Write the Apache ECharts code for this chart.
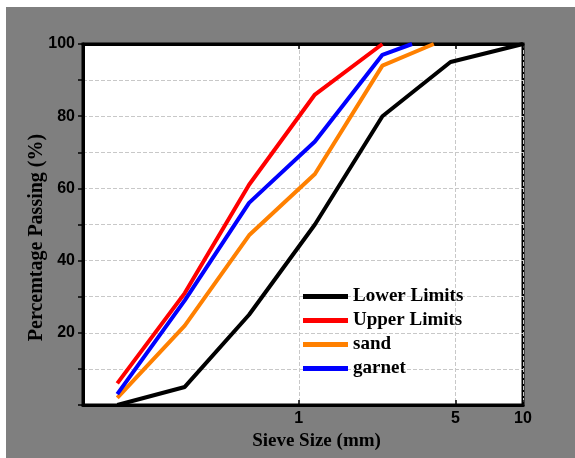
<!DOCTYPE html>
<html>
<head>
<meta charset="utf-8">
<script src="https://cdn.jsdelivr.net/npm/echarts@6/dist/echarts.min.js"></script>
<style>
  html, body { margin: 0; padding: 0; background: #fff; }
  #chart { position: absolute; left: 6px; top: 7px; width: 569px; height: 451px; background: #7f7f7f; }
</style>
</head>
<body>
<div id="chart"></div>
<script>
// sieve sizes (mm) and % passing
const lowerSize = [0.155, 0.31, 0.6, 1.18, 2.36, 4.75, 10];
const lowerPass = [0, 5, 25, 50, 80, 95, 100];
const upperSize = [0.155, 0.31, 0.6, 1.18, 2.36];
const upperPass = [6, 31, 61, 86, 100];
const sandSize = [0.155, 0.31, 0.6, 1.18, 2.36, 4];
const sandPass = [2, 22, 47, 64, 94, 100];
const garnetSize = [0.155, 0.31, 0.6, 1.18, 2.36, 3.2];
const garnetPass = [3, 29, 56, 73, 97, 100];
const xTicks = [1, 5, 10];

const pairs = (xs, ys) => xs.map((x, i) => [x, ys[i]]);

const labelFont = { fontFamily: 'Liberation Sans', fontWeight: 'bold', fontSize: 16, color: '#000' };
const nameFont = { fontFamily: 'Liberation Serif', fontWeight: 'bold', fontSize: 19, color: '#000' };
const grid = { type: 'dashed', color: '#c8c8c8', width: 1 };

const mkLine = (name, data, color) => ({
  name,
  type: 'line',
  data,
  symbol: 'none',
  color,
  lineStyle: { color, width: 4 },
});

const chart = echarts.init(document.getElementById('chart'));
chart.setOption({
  animation: false,
  grid: {
    left: 77, right: 52, top: 37, bottom: 53,
    show: true, backgroundColor: '#fff', borderColor: '#000', borderWidth: 3,
  },
  legend: {
    orient: 'vertical',
    left: 297,
    top: 280,
    padding: 0,
    icon: 'rect',
    itemWidth: 45,
    itemHeight: 5,
    itemGap: 5,
    textStyle: nameFont,
    data: ['Lower Limits', 'Upper Limits', 'sand', 'garnet'],
  },
  xAxis: [
    {
      type: 'log',
      min: 0.109,
      max: 10,
      name: 'Sieve Size (mm)',
      nameLocation: 'middle',
      nameGap: 24,
      nameTextStyle: Object.assign({ padding: [0, 0, 0, 27] }, nameFont),
      axisLine: { lineStyle: { color: '#000', width: 3 } },
      axisTick: { inside: true, length: 5, lineStyle: { color: '#000', width: 1.5 }, customValues: xTicks },
      axisLabel: Object.assign({ margin: 6, customValues: xTicks, formatter: v => String(v) }, labelFont),
      splitLine: { show: true, lineStyle: grid },
      minorTick: { show: false },
    },
    {
      type: 'log',
      position: 'top',
      min: 0.109,
      max: 10,
      axisLine: { lineStyle: { color: '#000', width: 3 } },
      axisTick: { inside: true, length: 5, lineStyle: { color: '#000', width: 1.5 }, customValues: xTicks },
      axisLabel: { show: false },
      splitLine: { show: false },
    },
  ],
  yAxis: {
    type: 'value',
    min: 0,
    max: 100,
    interval: 10,
    name: 'Percemtage Passing (%)',
    nameLocation: 'middle',
    nameGap: 36,
    nameMoveOverlap: false,
    nameTextStyle: Object.assign({}, nameFont, { fontSize: 20, padding: [0, 26, 0, 0] }),
    axisLine: { show: true, lineStyle: { color: '#000', width: 3 } },
    axisTick: { show: true, length: 5, lineStyle: { color: '#000', width: 1.5 } },
    axisLabel: Object.assign({
      margin: 8,
      formatter: v => (v > 0 && v % 20 === 0 ? String(v) : ''),
    }, labelFont),
    splitLine: { show: true, lineStyle: grid },
  },
  series: [
    mkLine('Lower Limits', pairs(lowerSize, lowerPass), '#000000'),
    mkLine('Upper Limits', pairs(upperSize, upperPass), '#ff0000'),
    mkLine('sand', pairs(sandSize, sandPass), '#ff8000'),
    mkLine('garnet', pairs(garnetSize, garnetPass), '#0000ff'),
  ],
});
</script>
</body>
</html>
